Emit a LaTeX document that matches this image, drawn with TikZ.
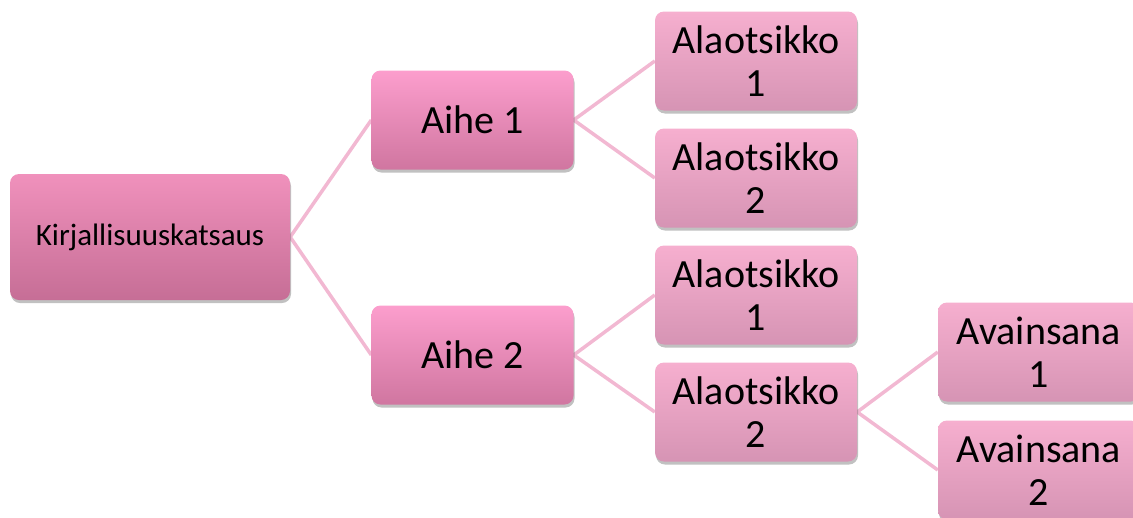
\documentclass[tikz,border=0pt]{standalone}
\usepackage{fontspec}
\setmainfont{Carlito}
\usetikzlibrary{shadows,backgrounds}
\definecolor{linkc}{RGB}{242,184,210}
\definecolor{kTop}{RGB}{240,145,188}
\definecolor{kBot}{RGB}{198,110,150}
\definecolor{aTop}{RGB}{252,158,205}
\definecolor{aBot}{RGB}{208,118,160}
\definecolor{sTop}{RGB}{246,175,207}
\definecolor{sBot}{RGB}{214,148,180}
\tikzset{
  box/.style={rounded corners=9pt, draw=none, inner sep=0pt, align=center,
    minimum width=202pt, minimum height=99pt,
    font=\fontsize{40}{43}\selectfont,
    drop shadow={shadow xshift=1pt, shadow yshift=-3pt, opacity=0.35, fill=black!70}},
  rootbox/.style={box, top color=kTop, bottom color=kBot,
    minimum width=280pt, minimum height=126pt, font=\fontsize{31}{34}\selectfont},
  topicbox/.style={box, top color=aTop, bottom color=aBot},
  subbox/.style={box, top color=sTop, bottom color=sBot},
  link/.style={draw=linkc, line width=3.5pt}
}
\begin{document}
\begin{tikzpicture}[x=1pt, y=-1pt]
\useasboundingbox (0,0) rectangle (1133,517);
\node[rootbox] (k) at (150,237) {Kirjallisuuskatsaus};
\node[topicbox] (a1) at (472.5,120) {Aihe 1};
\node[topicbox] (a2) at (472.5,355) {Aihe 2};
\node[subbox] (s11) at (756,61) {Alaotsikko\\1};
\node[subbox] (s12) at (756,178) {Alaotsikko\\2};
\node[subbox] (s21) at (756,295) {Alaotsikko\\1};
\node[subbox] (s22) at (756,412) {Alaotsikko\\2};
\node[subbox] (v1) at (1039,352) {Avainsana\\1};
\node[subbox] (v2) at (1039,470) {Avainsana\\2};
\begin{scope}[on background layer]
\draw[link] (k.east) -- (a1.west);
\draw[link] (k.east) -- (a2.west);
\draw[link] (a1.east) -- (s11.west);
\draw[link] (a1.east) -- (s12.west);
\draw[link] (a2.east) -- (s21.west);
\draw[link] (a2.east) -- (s22.west);
\draw[link] (s22.east) -- (v1.west);
\draw[link] (s22.east) -- (v2.west);
\end{scope}
\end{tikzpicture}
\end{document}
